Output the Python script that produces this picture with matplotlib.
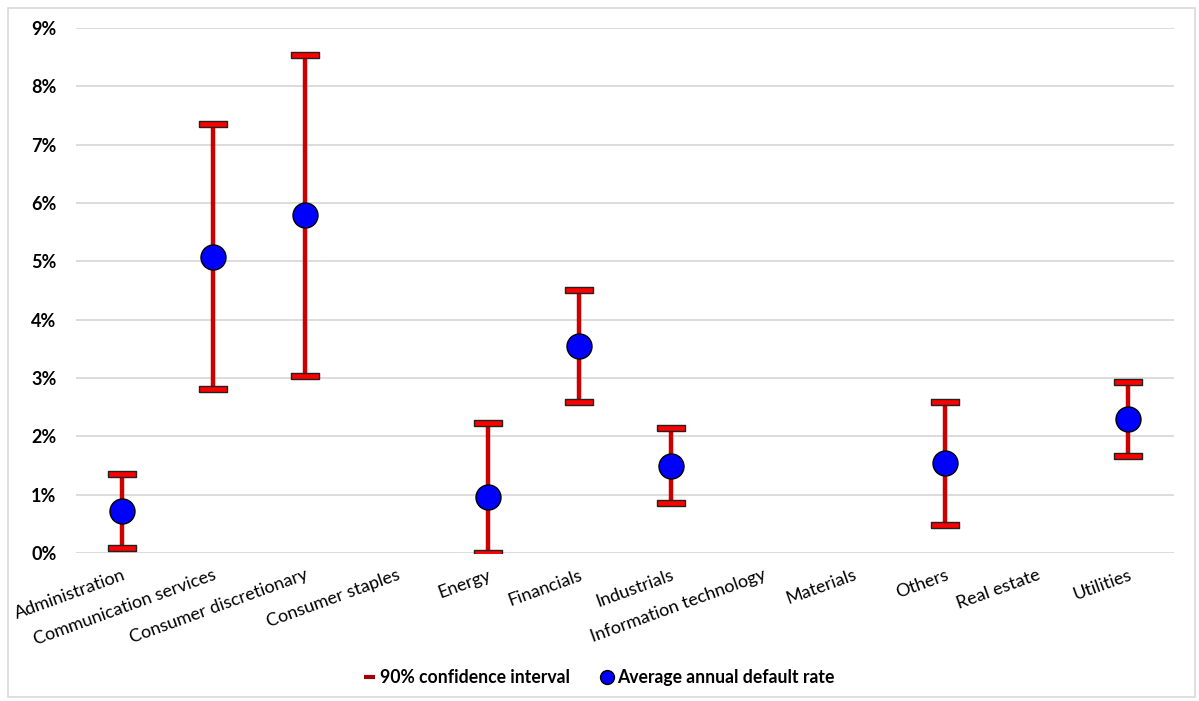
import matplotlib.pyplot as plt
import numpy as np
from matplotlib.lines import Line2D
from matplotlib.patches import Rectangle

plt.rcParams['font.family'] = ['Lato', 'DejaVu Sans']

sectors = ['Administration', 'Communication services', 'Consumer discretionary',
           'Consumer staples', 'Energy', 'Financials', 'Industrials',
           'Information technology', 'Materials', 'Others', 'Real estate', 'Utilities']
# average annual default rate (%), NaN where no data
avg = [0.72, 5.08, 5.79, np.nan, 0.97, 3.55, 1.50, np.nan, np.nan, 1.54, np.nan, 2.29]
upper = [1.35, 7.36, 8.54, np.nan, 2.23, 4.51, 2.14, np.nan, np.nan, 2.59, np.nan, 2.93]
lower = [0.09, 2.81, 3.04, np.nan, 0.00, 2.59, 0.86, np.nan, np.nan, 0.49, np.nan, 1.66]

x = np.arange(len(sectors))
avg = np.array(avg)
upper = np.array(upper)
lower = np.array(lower)

fig = plt.figure(figsize=(11.99, 7.01), dpi=100)
ax = fig.add_axes([0.0634, 0.211, 0.9156, 0.749])
fig.patches.append(Rectangle((0.007, 0.006), 0.99, 0.982, transform=fig.transFigure,
                             fill=False, edgecolor='#d9d9d9', lw=1.2))

ax.set_ylim(0, 9)
ax.set_xlim(-0.5, len(sectors) - 0.5)
ax.set_yticks(range(10))
ax.set_yticklabels([f'{i}%' for i in range(10)], fontweight='bold', fontsize=13)
ax.yaxis.grid(True, color='#d9d9d9', lw=1.3)
ax.set_axisbelow(True)
for s in ax.spines.values():
    s.set_visible(False)
ax.tick_params(length=0)
ax.tick_params(axis='y', pad=14)

ok = ~np.isnan(avg)
ax.vlines(x[ok], lower[ok], upper[ok], color='#cc0000', lw=3.2, zorder=2)
cap = [(-1, -0.2), (1, -0.2), (1, 0.2), (-1, 0.2), (-1, -0.2)]
ax.plot(x[ok], upper[ok], ls='none', marker=cap, ms=20, mfc='#ff0000', mec='#222222', mew=1.0, zorder=3)
ax.plot(x[ok], lower[ok], ls='none', marker=cap, ms=20, mfc='#ff0000', mec='#222222', mew=1.0, zorder=3)
ax.plot(x[ok], avg[ok], ls='none', marker='o', ms=18, mfc='#0000ff', mec='black', mew=1.0, zorder=4)

ax.set_xticks(x)
ax.set_xticklabels(sectors, rotation=20, ha='right', rotation_mode='anchor', fontsize=13)
ax.tick_params(axis='x', pad=10)

handles = [Line2D([], [], color='#a00000', lw=3, solid_capstyle='butt'),
           Line2D([], [], ls='none', marker='o', ms=10, mfc='#0000ff', mec='black')]
fig.legend(handles, ['90% confidence interval', 'Average annual default rate'],
           loc='center', bbox_to_anchor=(0.5, 0.033), ncol=2, frameon=False,
           prop={'weight': 'bold', 'size': 12.7}, handlelength=0.6, handletextpad=0.3,
           columnspacing=1.8)

fig.savefig('out.png', dpi=100)
